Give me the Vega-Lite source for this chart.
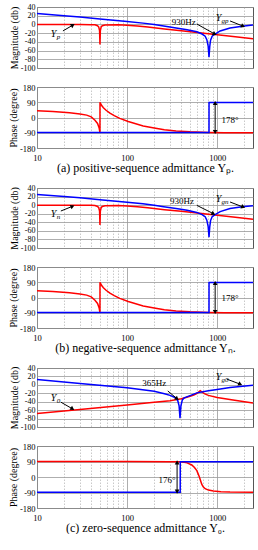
{
"$schema": "https://vega.github.io/schema/vega-lite/v6.json",
"background": "white",
"padding": {"left": 7, "top": 2, "right": 4, "bottom": 0},
"spacing": 9,
"config": {
  "font": "Liberation Serif",
  "view": {"stroke": "#555", "strokeWidth": 1},
  "axis": {"labelFont": "Liberation Serif", "labelFontSize": 8.5, "labelColor": "black", "titleFont": "Liberation Serif", "titleFontSize": 10, "titleFontWeight": "normal", "titleColor": "black", "ticks": false, "domain": false, "gridColor": "#999", "gridWidth": 0.8, "gridOpacity": 1, "labelPadding": 2, "titlePadding": 1, "labelOverlap": false, "labelFlush": false, "labelBound": false}
},
"datasets": {
  "magAB": [
    {"f":10,"v":0,"s":"Y"},{"f":20,"v":0,"s":"Y"},{"f":30,"v":-0.2,"s":"Y"},{"f":40,"v":-0.5,"s":"Y"},{"f":44,"v":-1,"s":"Y"},{"f":47,"v":-3,"s":"Y"},{"f":48.5,"v":-6,"s":"Y"},{"f":49.5,"v":-14,"s":"Y"},{"f":50,"v":-46,"s":"Y"},{"f":50.5,"v":-14,"s":"Y"},{"f":51.5,"v":-6,"s":"Y"},{"f":53,"v":-3,"s":"Y"},{"f":57,"v":-1.2,"s":"Y"},{"f":80,"v":-1,"s":"Y"},{"f":100,"v":-1.8,"s":"Y"},{"f":130,"v":-3.5,"s":"Y"},{"f":170,"v":-6,"s":"Y"},{"f":260,"v":-10.5,"s":"Y"},{"f":400,"v":-14.5,"s":"Y"},{"f":600,"v":-18.5,"s":"Y"},{"f":950,"v":-23,"s":"Y"},{"f":1500,"v":-27.5,"s":"Y"},{"f":2500,"v":-33,"s":"Y"},
    {"f":10,"v":25,"s":"Yg"},{"f":20,"v":20,"s":"Yg"},{"f":30,"v":17,"s":"Yg"},{"f":50,"v":12.5,"s":"Yg"},{"f":100,"v":7,"s":"Yg"},{"f":150,"v":3,"s":"Yg"},{"f":200,"v":0,"s":"Yg"},{"f":255,"v":-3.5,"s":"Yg"},{"f":350,"v":-8,"s":"Yg"},{"f":464,"v":-12,"s":"Yg"},{"f":595,"v":-17,"s":"Yg"},{"f":680,"v":-22,"s":"Yg"},{"f":736,"v":-27,"s":"Yg"},{"f":768,"v":-35,"s":"Yg"},{"f":795,"v":-50,"s":"Yg"},{"f":812,"v":-75,"s":"Yg"},{"f":828,"v":-50,"s":"Yg"},{"f":845,"v":-36,"s":"Yg"},{"f":880,"v":-27,"s":"Yg"},{"f":950,"v":-22,"s":"Yg"},{"f":1080,"v":-15,"s":"Yg"},{"f":1390,"v":-8,"s":"Yg"},{"f":1900,"v":-4,"s":"Yg"},{"f":2500,"v":-1.5,"s":"Yg"}
  ],
  "phAB": [
    {"f":10,"v":40,"s":"Y"},{"f":15,"v":35,"s":"Y"},{"f":23,"v":28,"s":"Y"},{"f":30,"v":21,"s":"Y"},{"f":35.6,"v":14,"s":"Y"},{"f":40,"v":4,"s":"Y"},{"f":44,"v":-16,"s":"Y"},{"f":47,"v":-35,"s":"Y"},{"f":49,"v":-62,"s":"Y"},{"f":50,"v":-90,"s":"Y"},{"f":50.05,"v":90,"s":"Y"},{"f":52,"v":72,"s":"Y"},{"f":54.6,"v":58,"s":"Y"},{"f":58,"v":44,"s":"Y"},{"f":64.5,"v":26,"s":"Y"},{"f":72,"v":11,"s":"Y"},{"f":83,"v":-5,"s":"Y"},{"f":103,"v":-24,"s":"Y"},{"f":151,"v":-50,"s":"Y"},{"f":200,"v":-62,"s":"Y"},{"f":259,"v":-72,"s":"Y"},{"f":350,"v":-79,"s":"Y"},{"f":500,"v":-84,"s":"Y"},{"f":800,"v":-88,"s":"Y"},{"f":1200,"v":-89.5,"s":"Y"},{"f":2500,"v":-90,"s":"Y"},
    {"f":10,"v":-89,"s":"Yg"},{"f":812,"v":-89,"s":"Yg"},{"f":812.5,"v":89,"s":"Yg"},{"f":2500,"v":89,"s":"Yg"}
  ],
  "magC": [
    {"f":10,"v":-68,"s":"Y"},{"f":30,"v":-58.5,"s":"Y"},{"f":100,"v":-48,"s":"Y"},{"f":200,"v":-41.5,"s":"Y"},{"f":300,"v":-37.5,"s":"Y"},{"f":359,"v":-35,"s":"Y"},{"f":400,"v":-33,"s":"Y"},{"f":450,"v":-30,"s":"Y"},{"f":500,"v":-27,"s":"Y"},{"f":550,"v":-24,"s":"Y"},{"f":600,"v":-20,"s":"Y"},{"f":630,"v":-16,"s":"Y"},{"f":650,"v":-14,"s":"Y"},{"f":680,"v":-17,"s":"Y"},{"f":720,"v":-21,"s":"Y"},{"f":800,"v":-25,"s":"Y"},{"f":1000,"v":-30,"s":"Y"},{"f":1500,"v":-36,"s":"Y"},{"f":2500,"v":-43,"s":"Y"},
    {"f":10,"v":13,"s":"Yg"},{"f":30,"v":3.5,"s":"Yg"},{"f":100,"v":-7,"s":"Yg"},{"f":200,"v":-15,"s":"Yg"},{"f":260,"v":-21,"s":"Yg"},{"f":300,"v":-25,"s":"Yg"},{"f":340,"v":-30,"s":"Yg"},{"f":365,"v":-37,"s":"Yg"},{"f":378,"v":-50,"s":"Yg"},{"f":387,"v":-79,"s":"Yg"},{"f":396,"v":-50,"s":"Yg"},{"f":410,"v":-36,"s":"Yg"},{"f":430,"v":-31,"s":"Yg"},{"f":500,"v":-25.5,"s":"Yg"},{"f":595,"v":-19,"s":"Yg"},{"f":800,"v":-14,"s":"Yg"},{"f":1000,"v":-11,"s":"Yg"},{"f":1390,"v":-6.5,"s":"Yg"},{"f":2500,"v":-1,"s":"Yg"}
  ],
  "phC": [
    {"f":10,"v":90,"s":"Y"},{"f":100,"v":89.5,"s":"Y"},{"f":300,"v":89,"s":"Y"},{"f":389,"v":88,"s":"Y"},{"f":430,"v":85,"s":"Y"},{"f":464,"v":82,"s":"Y"},{"f":523,"v":70,"s":"Y"},{"f":560,"v":55,"s":"Y"},{"f":595,"v":37,"s":"Y"},{"f":615,"v":18,"s":"Y"},{"f":635,"v":0,"s":"Y"},{"f":655,"v":-22,"s":"Y"},{"f":674,"v":-42,"s":"Y"},{"f":700,"v":-57,"s":"Y"},{"f":736,"v":-68,"s":"Y"},{"f":800,"v":-76,"s":"Y"},{"f":910,"v":-81,"s":"Y"},{"f":1100,"v":-85,"s":"Y"},{"f":1390,"v":-87,"s":"Y"},{"f":2500,"v":-89,"s":"Y"},
    {"f":10,"v":-88,"s":"Yg"},{"f":389,"v":-88,"s":"Yg"},{"f":389.5,"v":88,"s":"Yg"},{"f":2500,"v":88,"s":"Yg"}
  ],
  "arrA": [{"f":19.4,"v":-15,"f2":25,"v2":-1.5},{"f":595,"v":1,"f2":940,"v2":-22},{"f":1390,"v":8,"f2":1940,"v2":-4}],
  "headA": [{"f":25,"v":-1.5,"ang":59},{"f":940,"v":-22,"ang":117},{"f":1940,"v":-4,"ang":112}],
  "txtA": [{"f":426,"v":6,"t":"930Hz"}],
  "yA": [{"f":15.3,"v":-23,"t":"Y","sub":"p"},{"f":1034,"v":14,"t":"Y","sub":"gp"}],
  "arrB": [{"f":18.4,"v":-13.7,"f2":24.8,"v2":-2.7},{"f":595,"v":-0.5,"f2":910,"v2":-20},{"f":1390,"v":7.3,"f2":1945,"v2":-4.4}],
  "headB": [{"f":24.8,"v":-2.7,"ang":68},{"f":910,"v":-20,"ang":117},{"f":1945,"v":-4.4,"ang":111}],
  "txtB": [{"f":408,"v":9.6,"t":"930Hz"}],
  "yB": [{"f":15.3,"v":-21.5,"t":"Y","sub":"n"},{"f":1034,"v":15,"t":"Y","sub":"gn"}],
  "arrC": [{"f":18.4,"v":-41,"f2":24.8,"v2":-57},{"f":283,"v":-14.5,"f2":359,"v2":-33},{"f":1283,"v":13.6,"f2":1805,"v2":1.6}],
  "headC": [{"f":24.8,"v":-57,"ang":122},{"f":359,"v":-33,"ang":129},{"f":1805,"v":1.6,"ang":114}],
  "txtC": [{"f":200,"v":4,"t":"365Hz"}],
  "yC": [{"f":15.3,"v":-31,"t":"Y","sub":"0"},{"f":1034,"v":18,"t":"Y","sub":"g0"}],
  "dA": [{"f":950,"v":-86,"f2":950,"v2":86}],
  "dhA": [{"f":950,"v":86,"ang":0},{"f":950,"v":-86,"ang":180}],
  "dtA": [{"f":1390,"v":-12,"t":"178°"}],
  "dtB": [{"f":1390,"v":0,"t":"178°"}],
  "dC": [{"f":359,"v":-85,"f2":359,"v2":85}],
  "dhC": [{"f":359,"v":85,"ang":0},{"f":359,"v":-85,"ang":180}],
  "dtC": [{"f":278,"v":-20,"t":"176°"}]
},
"vconcat": [
  {
    "width": 216, "height": 61,
    "encoding": {
      "x": {"field": "f", "type": "quantitative", "scale": {"type": "log", "domain": [10, 2500], "nice": false},
            "axis": {"title": null, "labels": false, "values": [10,20,30,40,50,60,70,80,90,100,200,300,400,500,600,700,800,900,1000,2000],
                     "gridDash": {"condition": {"test": "indexof([10,100,1000], datum.value) >= 0", "value": []}, "value": [1.5,1.5]},
                     "gridColor": {"condition": {"test": "indexof([10,100,1000], datum.value) >= 0", "value": "#999"}, "value": "#bbb"}}},
      "y": {"field": "v", "type": "quantitative", "scale": {"domain": [-100, 40], "nice": false},
            "axis": {"title": "Magnitude (db)", "labelFontSize": 8, "values": [-100,-80,-60,-40,-20,0,20,40], "tickCount": 8, "labelExpr": "'' + datum.value"}}
    },
    "layer": [
      {"data": {"name": "magAB"}, "mark": {"type": "line", "strokeWidth": 1.5, "clip": true},
       "encoding": {"color": {"field": "s", "type": "nominal", "scale": {"domain": ["Y","Yg"], "range": ["#ff0000","#0000ff"]}, "legend": null}}},
      {"data": {"name": "arrA"}, "mark": {"type": "rule", "color": "black", "strokeWidth": 1},
       "encoding": {"x2": {"field": "f2"}, "y2": {"field": "v2"}}},
      {"data": {"name": "headA"}, "mark": {"type": "point", "shape": "triangle-up", "filled": true, "color": "black", "size": 22, "opacity": 1},
       "encoding": {"angle": {"field": "ang", "type": "quantitative", "scale": null}}},
      {"data": {"name": "txtA"}, "mark": {"type": "text", "fontSize": 9, "color": "black", "font": "Liberation Serif"},
       "encoding": {"text": {"field": "t"}}},
      {"data": {"name": "yA"}, "mark": {"type": "text", "fontSize": 10, "fontStyle": "italic", "color": "black", "font": "Liberation Serif"},
       "encoding": {"text": {"field": "t"}}},
      {"data": {"name": "yA"}, "mark": {"type": "text", "fontSize": 7, "fontStyle": "italic", "color": "black", "font": "Liberation Serif", "align": "left", "dx": 3, "dy": 3},
       "encoding": {"text": {"field": "sub"}}}
    ]
  },
  {
    "width": 216, "height": 61,
    "encoding": {
      "x": {"field": "f", "type": "quantitative", "scale": {"type": "log", "domain": [10, 2500], "nice": false},
            "axis": {"title": "(a) positive-sequence admittance Yₚ.", "titleFontSize": 12, "labelPadding": 5, "values": [10,20,30,40,50,60,70,80,90,100,200,300,400,500,600,700,800,900,1000,2000],
                     "labelExpr": "indexof([10,100,1000], datum.value) >= 0 ? '' + datum.value : ''",
                     "gridDash": {"condition": {"test": "indexof([10,100,1000], datum.value) >= 0", "value": []}, "value": [1.5,1.5]},
                     "gridColor": {"condition": {"test": "indexof([10,100,1000], datum.value) >= 0", "value": "#999"}, "value": "#bbb"}}},
      "y": {"field": "v", "type": "quantitative", "scale": {"domain": [-180, 180], "nice": false},
            "axis": {"title": "Phase (degree)", "values": [-180,-90,0,90,180], "tickCount": 5, "labelExpr": "'' + datum.value"}}
    },
    "layer": [
      {"data": {"name": "phAB"}, "mark": {"type": "line", "strokeWidth": 1.5, "clip": true},
       "encoding": {"color": {"field": "s", "type": "nominal", "scale": {"domain": ["Y","Yg"], "range": ["#ff0000","#0000ff"]}, "legend": null}}},
      {"data": {"name": "dA"}, "mark": {"type": "rule", "color": "black", "strokeWidth": 1},
       "encoding": {"x2": {"field": "f2"}, "y2": {"field": "v2"}}},
      {"data": {"name": "dhA"}, "mark": {"type": "point", "shape": "triangle-up", "filled": true, "color": "black", "size": 22, "opacity": 1},
       "encoding": {"angle": {"field": "ang", "type": "quantitative", "scale": null}}},
      {"data": {"name": "dtA"}, "mark": {"type": "text", "fontSize": 9, "color": "black", "font": "Liberation Serif"},
       "encoding": {"text": {"field": "t"}}}
    ]
  },
  {
    "width": 216, "height": 60,
    "encoding": {
      "x": {"field": "f", "type": "quantitative", "scale": {"type": "log", "domain": [10, 2500], "nice": false},
            "axis": {"title": null, "labels": false, "values": [10,20,30,40,50,60,70,80,90,100,200,300,400,500,600,700,800,900,1000,2000],
                     "gridDash": {"condition": {"test": "indexof([10,100,1000], datum.value) >= 0", "value": []}, "value": [1.5,1.5]},
                     "gridColor": {"condition": {"test": "indexof([10,100,1000], datum.value) >= 0", "value": "#999"}, "value": "#bbb"}}},
      "y": {"field": "v", "type": "quantitative", "scale": {"domain": [-100, 40], "nice": false},
            "axis": {"title": "Magnitude (db)", "labelFontSize": 8, "values": [-100,-80,-60,-40,-20,0,20,40], "tickCount": 8, "labelExpr": "'' + datum.value"}}
    },
    "layer": [
      {"data": {"name": "magAB"}, "mark": {"type": "line", "strokeWidth": 1.5, "clip": true},
       "encoding": {"color": {"field": "s", "type": "nominal", "scale": {"domain": ["Y","Yg"], "range": ["#ff0000","#0000ff"]}, "legend": null}}},
      {"data": {"name": "arrB"}, "mark": {"type": "rule", "color": "black", "strokeWidth": 1},
       "encoding": {"x2": {"field": "f2"}, "y2": {"field": "v2"}}},
      {"data": {"name": "headB"}, "mark": {"type": "point", "shape": "triangle-up", "filled": true, "color": "black", "size": 22, "opacity": 1},
       "encoding": {"angle": {"field": "ang", "type": "quantitative", "scale": null}}},
      {"data": {"name": "txtB"}, "mark": {"type": "text", "fontSize": 9, "color": "black", "font": "Liberation Serif"},
       "encoding": {"text": {"field": "t"}}},
      {"data": {"name": "yB"}, "mark": {"type": "text", "fontSize": 10, "fontStyle": "italic", "color": "black", "font": "Liberation Serif"},
       "encoding": {"text": {"field": "t"}}},
      {"data": {"name": "yB"}, "mark": {"type": "text", "fontSize": 7, "fontStyle": "italic", "color": "black", "font": "Liberation Serif", "align": "left", "dx": 3, "dy": 3},
       "encoding": {"text": {"field": "sub"}}}
    ]
  },
  {
    "width": 216, "height": 61,
    "encoding": {
      "x": {"field": "f", "type": "quantitative", "scale": {"type": "log", "domain": [10, 2500], "nice": false},
            "axis": {"title": "(b) negative-sequence admittance Yₙ.", "titleFontSize": 12, "labelPadding": 5, "values": [10,20,30,40,50,60,70,80,90,100,200,300,400,500,600,700,800,900,1000,2000],
                     "labelExpr": "indexof([10,100,1000], datum.value) >= 0 ? '' + datum.value : ''",
                     "gridDash": {"condition": {"test": "indexof([10,100,1000], datum.value) >= 0", "value": []}, "value": [1.5,1.5]},
                     "gridColor": {"condition": {"test": "indexof([10,100,1000], datum.value) >= 0", "value": "#999"}, "value": "#bbb"}}},
      "y": {"field": "v", "type": "quantitative", "scale": {"domain": [-180, 180], "nice": false},
            "axis": {"title": "Phase (degree)", "values": [-180,-90,0,90,180], "tickCount": 5, "labelExpr": "'' + datum.value"}}
    },
    "layer": [
      {"data": {"name": "phAB"}, "mark": {"type": "line", "strokeWidth": 1.5, "clip": true},
       "encoding": {"color": {"field": "s", "type": "nominal", "scale": {"domain": ["Y","Yg"], "range": ["#ff0000","#0000ff"]}, "legend": null}}},
      {"data": {"name": "dA"}, "mark": {"type": "rule", "color": "black", "strokeWidth": 1},
       "encoding": {"x2": {"field": "f2"}, "y2": {"field": "v2"}}},
      {"data": {"name": "dhA"}, "mark": {"type": "point", "shape": "triangle-up", "filled": true, "color": "black", "size": 22, "opacity": 1},
       "encoding": {"angle": {"field": "ang", "type": "quantitative", "scale": null}}},
      {"data": {"name": "dtB"}, "mark": {"type": "text", "fontSize": 9, "color": "black", "font": "Liberation Serif"},
       "encoding": {"text": {"field": "t"}}}
    ]
  },
  {
    "width": 216, "height": 59,
    "encoding": {
      "x": {"field": "f", "type": "quantitative", "scale": {"type": "log", "domain": [10, 2500], "nice": false},
            "axis": {"title": null, "labels": false, "values": [10,20,30,40,50,60,70,80,90,100,200,300,400,500,600,700,800,900,1000,2000],
                     "gridDash": {"condition": {"test": "indexof([10,100,1000], datum.value) >= 0", "value": []}, "value": [1.5,1.5]},
                     "gridColor": {"condition": {"test": "indexof([10,100,1000], datum.value) >= 0", "value": "#999"}, "value": "#bbb"}}},
      "y": {"field": "v", "type": "quantitative", "scale": {"domain": [-100, 40], "nice": false},
            "axis": {"title": "Magnitude (db)", "labelFontSize": 8, "values": [-100,-80,-60,-40,-20,0,20,40], "tickCount": 8, "labelExpr": "'' + datum.value"}}
    },
    "layer": [
      {"data": {"name": "magC"}, "mark": {"type": "line", "strokeWidth": 1.5, "clip": true},
       "encoding": {"color": {"field": "s", "type": "nominal", "scale": {"domain": ["Y","Yg"], "range": ["#ff0000","#0000ff"]}, "legend": null}}},
      {"data": {"name": "arrC"}, "mark": {"type": "rule", "color": "black", "strokeWidth": 1},
       "encoding": {"x2": {"field": "f2"}, "y2": {"field": "v2"}}},
      {"data": {"name": "headC"}, "mark": {"type": "point", "shape": "triangle-up", "filled": true, "color": "black", "size": 22, "opacity": 1},
       "encoding": {"angle": {"field": "ang", "type": "quantitative", "scale": null}}},
      {"data": {"name": "txtC"}, "mark": {"type": "text", "fontSize": 9, "color": "black", "font": "Liberation Serif"},
       "encoding": {"text": {"field": "t"}}},
      {"data": {"name": "yC"}, "mark": {"type": "text", "fontSize": 10, "fontStyle": "italic", "color": "black", "font": "Liberation Serif"},
       "encoding": {"text": {"field": "t"}}},
      {"data": {"name": "yC"}, "mark": {"type": "text", "fontSize": 7, "fontStyle": "italic", "color": "black", "font": "Liberation Serif", "align": "left", "dx": 3, "dy": 3},
       "encoding": {"text": {"field": "sub"}}}
    ]
  },
  {
    "width": 216, "height": 62,
    "encoding": {
      "x": {"field": "f", "type": "quantitative", "scale": {"type": "log", "domain": [10, 2500], "nice": false},
            "axis": {"title": "(c) zero-sequence admittance Y₀.", "titleFontSize": 12, "labelPadding": 5, "values": [10,20,30,40,50,60,70,80,90,100,200,300,400,500,600,700,800,900,1000,2000],
                     "labelExpr": "indexof([10,100,1000], datum.value) >= 0 ? '' + datum.value : ''",
                     "gridDash": {"condition": {"test": "indexof([10,100,1000], datum.value) >= 0", "value": []}, "value": [1.5,1.5]},
                     "gridColor": {"condition": {"test": "indexof([10,100,1000], datum.value) >= 0", "value": "#999"}, "value": "#bbb"}}},
      "y": {"field": "v", "type": "quantitative", "scale": {"domain": [-180, 180], "nice": false},
            "axis": {"title": "Phase (degree)", "values": [-180,-90,0,90,180], "tickCount": 5, "labelExpr": "'' + datum.value"}}
    },
    "layer": [
      {"data": {"name": "phC"}, "mark": {"type": "line", "strokeWidth": 1.5, "clip": true},
       "encoding": {"color": {"field": "s", "type": "nominal", "scale": {"domain": ["Y","Yg"], "range": ["#ff0000","#0000ff"]}, "legend": null}}},
      {"data": {"name": "dC"}, "mark": {"type": "rule", "color": "black", "strokeWidth": 1},
       "encoding": {"x2": {"field": "f2"}, "y2": {"field": "v2"}}},
      {"data": {"name": "dhC"}, "mark": {"type": "point", "shape": "triangle-up", "filled": true, "color": "black", "size": 22, "opacity": 1},
       "encoding": {"angle": {"field": "ang", "type": "quantitative", "scale": null}}},
      {"data": {"name": "dtC"}, "mark": {"type": "text", "fontSize": 9, "color": "black", "font": "Liberation Serif"},
       "encoding": {"text": {"field": "t"}}}
    ]
  }
]
}
